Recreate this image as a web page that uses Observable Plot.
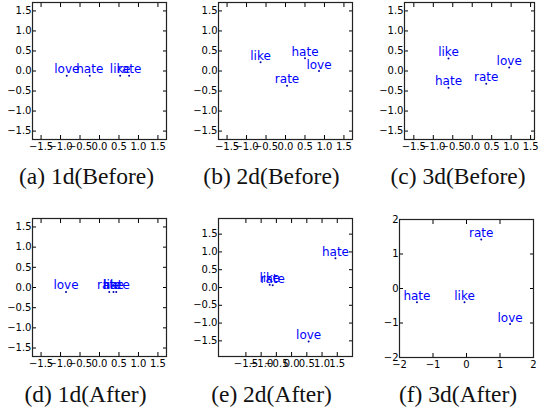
<!DOCTYPE html>
<html><head><meta charset="utf-8">
<script src="https://cdn.jsdelivr.net/npm/d3@7"></script>
<script src="https://cdn.jsdelivr.net/npm/@observablehq/plot@0.6"></script>
<style>
html,body{margin:0;padding:0;background:#fff;}
#fig{position:relative;width:539px;height:416px;overflow:hidden;background:#fff;}
#fig svg{position:absolute;overflow:visible;}
</style></head><body><div id="fig"></div>
<script>
const words = ["love", "hate", "like", "rate"];
const captions = ["(a) 1d(Before)", "(b) 2d(Before)", "(c) 3d(Before)", "(d) 1d(After)", "(e) 2d(After)", "(f) 3d(After)"];
const ticksHalf = [-1.5, -1.0, -0.5, 0.0, 0.5, 1.0, 1.5];
const ticksInt = [-2, -1, 0, 1, 2];

// (a) 1d Before
const xA = [-0.84, -0.25, 0.53, 0.76];
const yA = [-0.12, -0.12, -0.12, -0.12];
// (b) 2d Before
const xB = [0.86, 0.5, -0.64, 0.04];
const yB = [0.0, 0.32, 0.22, -0.37];
// (c) 3d Before
const xC = [0.95, -0.61, -0.61, 0.36];
const yC = [0.09, -0.42, 0.31, -0.32];
// (d) 1d After
const xD = [-0.86, 0.43, 0.36, 0.25];
const yD = [-0.11, -0.11, -0.11, -0.11];
// (e) 2d After
const xE = [0.56, 1.44, -0.72, -0.62];
const yE = [-1.52, 0.82, 0.08, 0.06];
// (f) 3d After
const xF = [1.3, -1.48, -0.06, 0.44];
const yF = [-1.03, -0.4, -0.4, 1.42];

const fig = document.getElementById("fig");
const fmt1 = d3.format(".1f");
const fmt0 = d3.format("d");

function panel(xs, ys, xDomain, yDomain, ticks, fmt, frame) {
  const [x0, y0, x1, y1] = frame;
  const mL = 34, mR = 6, mT = 6, mB = 18;
  const data = words.map((w, i) => ({w, x: xs[i], y: ys[i]}));
  const svg = Plot.plot({
    width: x1 - x0 + mL + mR, height: y1 - y0 + mT + mB,
    marginLeft: mL, marginRight: mR, marginTop: mT, marginBottom: mB,
    style: {fontFamily: "DejaVu Sans", fontSize: "10px", color: "#000", background: "transparent", overflow: "visible"},
    x: {domain: xDomain},
    y: {domain: yDomain},
    marks: [
      Plot.axisX({ticks, anchor: "bottom", tickSize: -4, tickPadding: 7, tickFormat: fmt, label: null}),
      Plot.axisX({ticks, anchor: "top", tickSize: -4, tickFormat: () => "", label: null}),
      Plot.axisY({ticks, anchor: "left", tickSize: -4, tickPadding: 5, tickFormat: fmt, label: null}),
      Plot.axisY({ticks, anchor: "right", tickSize: -4, tickFormat: () => "", label: null}),
      Plot.frame({stroke: "#222", strokeWidth: 1.2}),
      Plot.text(data, {x: "x", y: "y", text: "w", fill: "blue", fontSize: 12, fontFamily: "DejaVu Sans", textAnchor: "middle", lineAnchor: "bottom", dy: -2.5}),
      Plot.dot(data, {x: "x", y: "y", r: 1, fill: "#0000aa", stroke: "none"})
    ]
  });
  svg.style.left = (x0 - mL) + "px";
  svg.style.top = (y0 - mT) + "px";
  fig.append(svg);
}

panel(xA, yA, [-1.72, 1.72], [-1.71, 1.71], ticksHalf, fmt1, [32, 2, 166, 139]);
panel(xB, yB, [-1.72, 1.72], [-1.71, 1.71], ticksHalf, fmt1, [218, 2, 352, 139]);
panel(xC, yC, [-1.74, 1.6], [-1.71, 1.71], ticksHalf, fmt1, [404, 2, 534, 139]);
panel(xD, yD, [-1.72, 1.72], [-1.71, 1.71], ticksHalf, fmt1, [32, 218, 166, 356]);
panel(xE, yE, [-2.4, 2.0], [-1.94, 1.94], ticksHalf, fmt1, [218, 218, 352, 356]);
panel(xF, yF, [-2, 2], [-2, 2], ticksInt, fmt0, [399, 219, 533, 357]);

// captions
const capPos = [[86.5, 184], [271.5, 184], [458, 184], [85.5, 402], [271.5, 402], [458, 402]];
const ns = "http://www.w3.org/2000/svg";
const capSvg = document.createElementNS(ns, "svg");
capSvg.setAttribute("width", 539); capSvg.setAttribute("height", 416);
capSvg.style.left = "0px"; capSvg.style.top = "0px"; capSvg.style.pointerEvents = "none";
captions.forEach((c, i) => {
  const t = document.createElementNS(ns, "text");
  t.setAttribute("x", capPos[i][0]); t.setAttribute("y", capPos[i][1]);
  t.setAttribute("text-anchor", "middle");
  t.setAttribute("font-family", "Liberation Serif, Times New Roman, serif");
  t.setAttribute("font-size", "23.5");
  t.setAttribute("fill", "#111");
  t.textContent = c;
  capSvg.append(t);
});
fig.append(capSvg);
</script>
</body></html>
